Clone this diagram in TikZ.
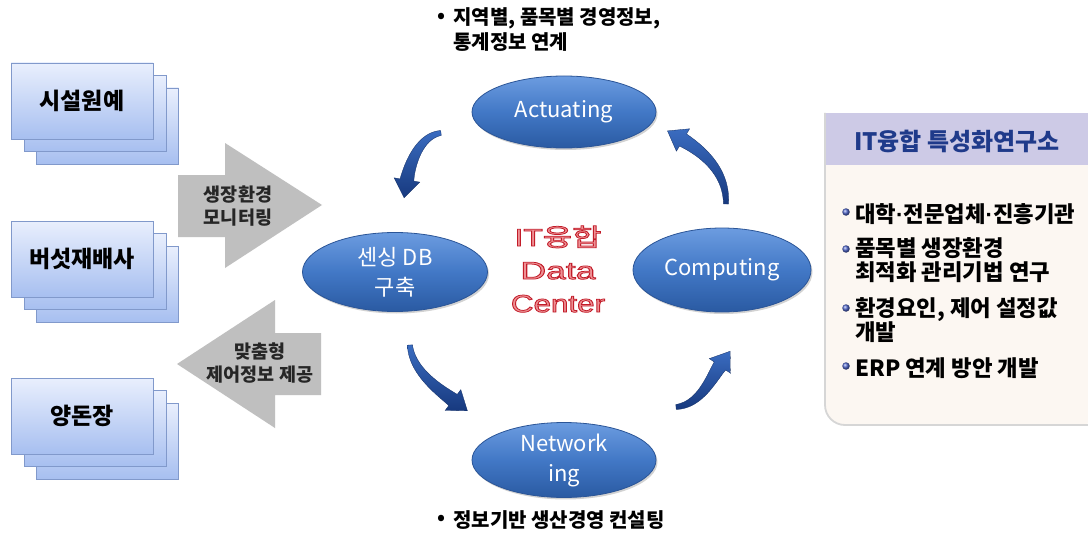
\documentclass[tikz,border=0pt]{standalone}
\usepackage{fontspec}
\usepackage{graphicx}
\setmainfont{Noto Sans CJK KR}
\newfontfamily\latinsans{Liberation Sans}
\usetikzlibrary{arrows.meta,shadows,shapes.geometric,calc}
\definecolor{boxedge}{HTML}{8199CB}
\definecolor{boxtop}{HTML}{E9EFFD}
\definecolor{boxbot}{HTML}{A7BFF0}
\definecolor{arrgray}{HTML}{BFBFBF}
\definecolor{elltop}{HTML}{6C9CE0}
\definecolor{ellmid}{HTML}{4278C6}
\definecolor{ellbot}{HTML}{2A5AA2}
\definecolor{elledge}{HTML}{2B5597}
\definecolor{cyctop}{HTML}{3A6CC0}
\definecolor{cycbot}{HTML}{17397E}
\definecolor{dcfill}{HTML}{EE9094}
\definecolor{panelbg}{HTML}{FCF7F2}
\definecolor{panelhead}{HTML}{CDCAE6}
\definecolor{headtext}{HTML}{1F3A8A}
\definecolor{dotblue}{HTML}{4F66CC}
\tikzset{
  sitebox/.style={draw=boxedge, line width=0.8pt, top color=boxtop, bottom color=boxbot,
    minimum width=142, minimum height=76, inner sep=0pt,
    font=\bfseries\fontsize{23}{26}\selectfont},
  cycnode/.style={ellipse, draw=elledge, line width=0.8pt, top color=elltop, bottom color=ellbot,
    middle color=ellmid, text=white, align=center, inner sep=0pt,
    font=\fontsize{22}{30}\selectfont,
    drop shadow={shadow xshift=1.5pt, shadow yshift=-2pt, opacity=0.35}},
  cycfill/.style={top color=cyctop, bottom color=cycbot, draw=cycbot!80!black, line width=0.3pt},
  grayarrow/.style={fill=arrgray, draw=none},
  arrowtext/.style={align=center, font=\bfseries\fontsize{18.5}{23}\selectfont, text=black!85},
  note/.style={anchor=west, inner sep=0pt, font=\bfseries\fontsize{20}{24}\selectfont},
  item/.style={anchor=west, inner sep=0pt, align=left, font=\bfseries\fontsize{22.3}{24}\selectfont},
  dot/.style={circle, inner sep=0pt, minimum size=7.5pt, ball color=dotblue, draw=none},
  dctext/.style={align=center, inner sep=0pt, text=dcfill, font=\latinsans\fontsize{24.5}{33}\selectfont},
}
% outlined lettering: fill with the current colour, stroke in dark red
\newcommand\outlined[1]{\special{pdf:literal direct 0.76 0.11 0.16 RG 0.75 w 2 Tr}#1\special{pdf:literal direct 0 Tr}}
% tapered curved arrow along a cubic centreline; the head sits beyond the end point
\newcommand\taperarrow[8]{%
  \begin{scope}[declare function={
      bx(\t)=(1-\t)^3*#1+3*(1-\t)^2*\t*#3+3*(1-\t)*\t^2*#5+\t^3*#7;
      by(\t)=(1-\t)^3*#2+3*(1-\t)^2*\t*#4+3*(1-\t)*\t^2*#6+\t^3*#8;
      dx(\t)=3*(1-\t)^2*(#3-#1)+6*(1-\t)*\t*(#5-#3)+3*\t^2*(#7-#5);
      dy(\t)=3*(1-\t)^2*(#4-#2)+6*(1-\t)*\t*(#6-#4)+3*\t^2*(#8-#6);
      ww(\t)=2.5+4.5*\t;
      nx(\t)=-dy(\t)/veclen(dx(\t),dy(\t));
      ny(\t)=dx(\t)/veclen(dx(\t),dy(\t));
    }]
    \pgfmathsetmacro\tux{(#7-#5)/veclen(#7-#5,#8-#6)}
    \pgfmathsetmacro\tuy{(#8-#6)/veclen(#7-#5,#8-#6)}
    \path[cycfill] plot[domain=0:1, samples=30, variable=\t] ({bx(\t)+ww(\t)*nx(\t)},{by(\t)+ww(\t)*ny(\t)})
      -- ({#7-13*\tuy},{#8+13*\tux}) -- ({#7+18*\tux},{#8+18*\tuy}) -- ({#7+13*\tuy},{#8-13*\tux})
      -- plot[domain=1:0, samples=30, variable=\t] ({bx(\t)-ww(\t)*nx(\t)},{by(\t)-ww(\t)*ny(\t)}) -- cycle;
  \end{scope}}
\begin{document}
\begin{tikzpicture}[x=1pt,y=-1pt]
\useasboundingbox (0,0) rectangle (1088,535);
\fill[white] (0,0) rectangle (1088,535);

% stacked site boxes on the left
\foreach \nm/\yy/\txt in {s1/101/시설원예, s2/259/버섯재배사, s3/416/양돈장}{
  \node[sitebox] at (107.5,\yy+25) {};
  \node[sitebox] at (95,\yy+12.5) {};
  \node[sitebox] (\nm) at (82,\yy) {\txt};
}

% gray block arrows between the sites and the data center
\fill[grayarrow] (178,175) -- (225,175) -- (225,143) -- (322,205) -- (225,268) -- (225,237) -- (178,237) -- cycle;
\node[arrowtext] (mon) at (238,206) {생장환경\\모니터링};
\fill[grayarrow] (321,333) -- (275,333) -- (275,300) -- (177,364) -- (275,428) -- (275,395) -- (321,395) -- cycle;
\node[arrowtext] (ctl) at (260,363) {맞춤형\\제어정보 제공};

% the four stages of the cycle
\node[cycnode, minimum width=184, minimum height=72] (act) at (564,112) {Actuating};
\node[cycnode, minimum width=185, minimum height=79] (sen) at (395,272) {센싱 DB\\구축};
\node[cycnode, minimum width=178, minimum height=84] (com) at (722,270) {Computing};
\node[cycnode, minimum width=184, minimum height=74] (net) at (564,460) {Network\\ing};

% centre title
\node[dctext] (dc) at (558,269) {\outlined{\scalebox{1.3}[1]{IT{\rmfamily 융합}}}\\
  \outlined{\scalebox{1.45}[1]{Data}}\\\outlined{\scalebox{1.28}[1]{Center}}};

% curved arrows running round the cycle
\taperarrow{441}{133}{418}{136}{409}{168}{407}{180}
\taperarrow{410}{345}{412}{372}{441}{391}{453}{400}
\taperarrow{676}{407}{700}{405}{711.5}{378.3}{720}{366}
\taperarrow{726}{204}{727}{170}{700}{150}{683}{140}

% notes above and below
\node[note] (b1) at (437,18) {•};
\node[note] (n1) at (453,18) {지역별, 품목별 경영정보,};
\node[note] (n2) at (453,42) {통계정보 연계};
\node[note] (b2) at (437,520) {•};
\node[note] (n3) at (453,520) {정보기반 생산경영 컨설팅};

% research institute panel
\begin{scope}
  \path[clip] (825,113) [rounded corners=20] -- (825,425) -- (1100,425) [sharp corners] -- (1100,113) -- cycle;
  \fill[panelbg] (825,113) rectangle (1100,425);
  \fill[panelhead] (825,113) rectangle (1100,165);
\end{scope}
\draw[black!16, line width=1.8pt] (1100,425) [rounded corners=20] -- (825,425) -- (825,113);
\node[text=headtext, font=\bfseries\fontsize{24}{26}\selectfont] (hd) at (957,141) {IT융합 특성화연구소};

\newcommand\nd{{\latinsans\bfseries ·}}
\node[dot] (d1) at (846,212) {};
\node[item] (i1) at (855,214) {대학\nd 전문업체\nd 진흥기관};
\node[dot] (d2) at (846,249) {};
\node[item, anchor=north west] (i2) at (855,237) {품목별 생장환경\\최적화 관리기법 연구};
\node[dot] (d3) at (846,308) {};
\node[item, anchor=north west] (i3) at (855,297) {환경요인, 제어 설정값\\개발};
\node[dot] (d4) at (846,366) {};
\node[item] (i4) at (855,368) {ERP 연계 방안 개발};
\end{tikzpicture}
\end{document}
